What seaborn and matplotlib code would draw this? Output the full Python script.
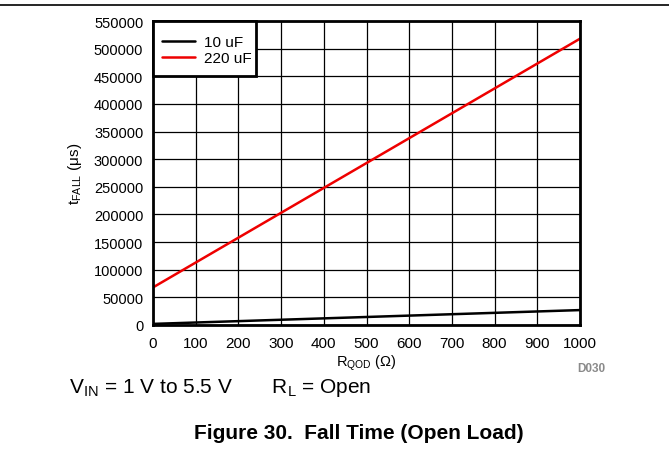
import matplotlib
matplotlib.use("Agg")
import matplotlib.pyplot as plt
from matplotlib.patches import Rectangle
import seaborn as sns
import pandas as pd

sns.set_theme(style="white")
plt.rcParams['font.family'] = ['Liberation Sans', 'DejaVu Sans']
plt.rcParams['mathtext.fontset'] = 'custom'
plt.rcParams['mathtext.rm'] = 'Liberation Sans'
plt.rcParams['mathtext.it'] = 'Liberation Sans'
plt.rcParams['mathtext.bf'] = 'Liberation Sans:bold'

r_qod = [0, 200, 400, 600, 800, 1000]
t_10uF = [2000, 7000, 12000, 17000, 22000, 27000]
t_220uF = [68000, 158000, 248000, 338000, 428000, 518000]
series_names = ["10 uF", "220 uF"]
xticks = list(range(0, 1001, 100))
yticks = list(range(0, 550001, 50000))

df = pd.DataFrame({
    "R": r_qod * 2,
    "t": t_10uF + t_220uF,
    "C": [series_names[0]] * len(r_qod) + [series_names[1]] * len(r_qod),
})

W, H = 669, 464
ax_l, ax_r, ax_t, ax_b = 153, 580, 22, 326
fig = plt.figure(figsize=(W/100, H/100), dpi=100)
ax = fig.add_axes([ax_l/W, 1 - ax_b/H, (ax_r-ax_l)/W, (ax_b-ax_t)/H])
aw, ah = ax_r - ax_l, ax_b - ax_t

sns.lineplot(data=df, x="R", y="t", hue="C", palette=["black", "#ee0000"],
             linewidth=1.8, ax=ax, legend=True)

ax.set_xlim(0, 1000)
ax.set_ylim(0, 550000)
ax.set_xticks(xticks)
ax.set_yticks(yticks)
ax.set_xticklabels([str(v) for v in xticks], fontsize=11)
ax.set_yticklabels([str(v) for v in yticks], fontsize=10.5)
ax.grid(True, color="black", linewidth=0.9)
ax.set_axisbelow(True)
for s in ax.spines.values():
    s.set_color("black")
    s.set_linewidth(2)
ax.tick_params(axis="y", length=0, pad=7, colors="black")
ax.tick_params(axis="x", length=0, pad=8, colors="black")
ax.set_xlabel(r"R$_{\mathrm{QOD}}$ ($\Omega$)", fontsize=10.5, labelpad=2, color="black")
ax.set_ylabel(r"t$_{\mathrm{FALL}}$ ($\mu$s)", fontsize=11, labelpad=7, color="black")

# legend box (white panel with thick black border) behind the legend entries
box = Rectangle((0, 1 - (77 - ax_t)/ah), (256 - ax_l)/aw, (77 - ax_t)/ah,
                transform=ax.transAxes, facecolor="white", edgecolor="black",
                linewidth=2, zorder=3, clip_on=False)
ax.add_patch(box)

leg = ax.legend(loc="upper left", bbox_to_anchor=(9/aw, 1 - 14/ah), fontsize=11,
                frameon=False, borderaxespad=0, borderpad=0, handlelength=2.15,
                handletextpad=0.6, labelspacing=0.15)
leg.set_zorder(4)
for t in leg.get_texts():
    t.set_color("black")

fig.add_artist(plt.Line2D([0, 1], [1 - 6/H, 1 - 6/H], color="black", linewidth=1.2,
                          transform=fig.transFigure))
fig.text(605/W, 1 - 369/H, "D030", fontsize=8.5, color="#8a8a8a", ha="right", va="center",
         fontweight="bold")
fig.text(69/W, 1 - 388/H, r"V$_{\mathrm{IN}}$ = 1 V to 5.5 V       R$_{\mathrm{L}}$ = Open",
         fontsize=15, color="black", ha="left", va="center")
fig.text(359/W, 1 - 434/H, "Figure 30.  Fall Time (Open Load)", fontsize=15,
         fontweight="bold", color="black", ha="center", va="center")

fig.savefig("out.png", dpi=100)
